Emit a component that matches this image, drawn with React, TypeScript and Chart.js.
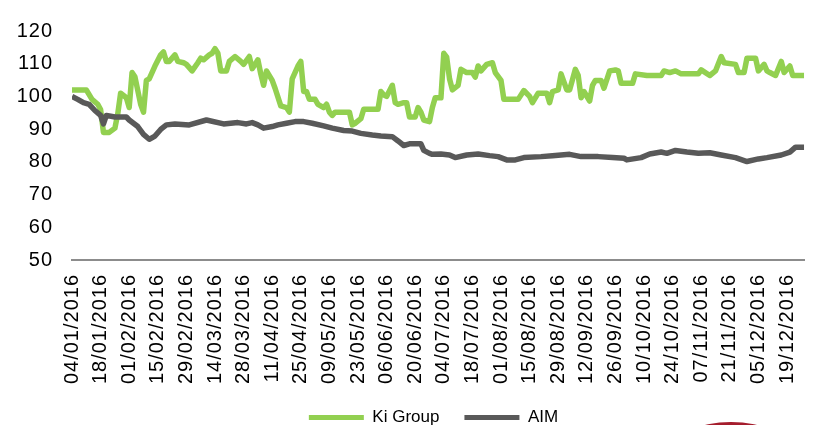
import { useEffect, useRef } from 'react';
import { Chart, registerables } from 'chart.js';

Chart.register(...registerables);

// Fortnightly date labels on the x axis (one every 10 trading days)
const tickLabels = [
  '04/01/2016', '18/01/2016', '01/02/2016', '15/02/2016', '29/02/2016', '14/03/2016',
  '28/03/2016', '11/04/2016', '25/04/2016', '09/05/2016', '23/05/2016', '06/06/2016',
  '20/06/2016', '04/07/2016', '18/07/2016', '01/08/2016', '15/08/2016', '29/08/2016',
  '12/09/2016', '26/09/2016', '10/10/2016', '24/10/2016', '07/11/2016', '21/11/2016',
  '05/12/2016', '19/12/2016',
];
const lastTradingDay = 256;

const seriesNames = ['Ki Group', 'AIM'];
const seriesColors = ['#92D050', '#595959'];

// [trading day index since 04/01/2016, rebased value]
const kiGroup: [number, number][] = [
  [0, 102], [5, 102], [7, 99.1], [9, 97.6], [10, 96], [11, 89], [13, 89], [15, 90.3], [16, 94.7],
  [17, 101], [19, 99.6], [20, 96.6], [21, 107.3], [22, 106], [24, 97.6], [25, 95.2], [26, 104.9],
  [27, 105.4], [29, 109.3], [31, 112.7], [32, 113.6], [33, 110.7], [34, 110.7], [36, 112.7],
  [37, 110.7], [39, 110.3], [40, 109.8], [42, 107.8], [44, 110.3], [45, 111.7], [46, 111.2],
  [48, 112.7], [49, 113.2], [50, 114.6], [51, 113.2], [52, 107.8], [54, 107.8], [55, 110.7],
  [57, 112.2], [59, 110.7], [60, 109.8], [62, 112.2], [63, 108.5], [64, 109.8], [65, 111.2],
  [66, 106.9], [67, 103.4], [68, 107.8], [70, 104.9], [71, 102.5], [73, 97.1], [75, 96.6],
  [76, 95.2], [77, 105.4], [79, 109.3], [80, 110.7], [81, 101.5], [82, 101.5], [83, 99.1],
  [85, 99.1], [86, 97.6], [88, 96.6], [89, 97.6], [90, 95.2], [91, 94.2], [92, 95.2], [95, 95.2],
  [97, 95.2], [98, 91.3], [99, 91.8], [101, 93.2], [102, 96.1], [105, 96.1], [107, 96.1],
  [108, 101.5], [109, 100.5], [110, 100], [112, 103.4], [113, 98.1], [114, 97.6], [116, 98.1],
  [117, 98.1], [118, 93.7], [120, 93.7], [121, 96.6], [122, 95.2], [123, 92.8], [125, 92.3],
  [126, 96.6], [127, 99.6], [129, 99.6], [130, 113.2], [131, 112], [132, 105.4], [133, 102],
  [135, 103.4], [136, 108.3], [138, 107.3], [140, 107.3], [141, 105.9], [142, 109.3],
  [143, 107.8], [145, 109.8], [147, 110.3], [148, 107.3], [150, 104.9], [151, 99.1], [156, 99.1],
  [158, 101.8], [160, 100], [161, 98.1], [163, 101], [166, 101], [167, 98.1], [168, 101.5],
  [170, 102], [171, 106.9], [173, 102], [174, 102], [176, 108.3], [177, 106.4], [178, 99.6],
  [179, 101.5], [181, 98.6], [182, 103.4], [183, 104.9], [185, 104.9], [186, 102.5],
  [188, 107.8], [190, 108.1], [191, 107.8], [192, 104], [196, 104], [197, 106.9], [201, 106.4],
  [206, 106.4], [207, 107.8], [209, 107.3], [211, 107.8], [213, 106.9], [219, 106.9],
  [220, 108.1], [223, 106.4], [225, 107.8], [227, 112.2], [228, 110.3], [232, 109.8],
  [233, 107.3], [235, 107.3], [236, 111.7], [239, 111.7], [240, 107.8], [242, 109.8],
  [243, 107.8], [244, 107.3], [246, 106.4], [248, 110.7], [249, 107.3], [251, 109.3],
  [252, 106.4], [256, 106.4],
];

const aim: [number, number][] = [
  [0, 100], [2, 99.1], [4, 98.1], [6, 97.6], [8, 95.7], [10, 94.2], [11, 91.6], [12, 94.2],
  [15, 93.7], [19, 93.7], [20, 92.8], [23, 90.8], [25, 88.4], [27, 86.9], [29, 87.9], [31, 89.9],
  [33, 91.3], [36, 91.6], [41, 91.3], [47, 92.8], [53, 91.6], [58, 92], [61, 91.6], [63, 92],
  [65, 91.3], [67, 90.3], [70, 90.8], [72, 91.3], [75, 91.8], [78, 92.3], [81, 92.3], [84, 91.8],
  [88, 91], [91, 90.3], [95, 89.6], [98, 89.4], [101, 88.7], [105, 88.2], [108, 87.9],
  [112, 87.7], [114, 86.4], [116, 85], [118, 85.5], [122, 85.5], [123, 83.5], [125, 82.6],
  [126, 82.3], [129, 82.4], [132, 82.1], [134, 81.3], [138, 82.1], [142, 82.4], [146, 81.9],
  [149, 81.6], [152, 80.6], [155, 80.6], [158, 81.3], [164, 81.6], [168, 81.9], [174, 82.3],
  [178, 81.6], [184, 81.6], [189, 81.3], [193, 81.1], [194, 80.6], [199, 81.3], [202, 82.4],
  [206, 83], [208, 82.6], [211, 83.5], [215, 83], [219, 82.6], [223, 82.8], [227, 82.1],
  [232, 81.3], [236, 80.1], [240, 80.9], [243, 81.3], [248, 82.1], [251, 83], [253, 84.5],
  [256, 84.5],
];

const yMin = 50;
const yMax = 120;
const yStep = 10;

const FONT = "'Liberation Sans', Arial, sans-serif";

export default function App() {
  const ref = useRef<HTMLCanvasElement>(null);

  useEffect(() => {
    const canvas = ref.current;
    if (!canvas) return;
    const spacing = '1px';

    const textPlugin: any = {
      id: 'textTweaks',
      beforeLayout(chart: any) {
        chart.ctx.letterSpacing = spacing;
        const lg: any = chart.legend;
        if (lg && !lg.__patched) {
          lg.__patched = true;
          const fit = lg.fit.bind(lg);
          const draw = lg.draw.bind(lg);
          lg.fit = () => {
            const c: any = chart.ctx;
            const s = c.letterSpacing;
            c.letterSpacing = '0px';
            fit();
            c.letterSpacing = s;
          };
          lg.draw = (...a: any[]) => {
            const c: any = chart.ctx;
            const s = c.letterSpacing;
            c.letterSpacing = '0px';
            draw(...a);
            c.letterSpacing = s;
          };
        }
      },
      afterLayout(chart: any) {
        const lg = chart.legend;
        if (lg) {
          lg.left += 21;
          lg.right += 21;
        }
      },
      beforeDraw(chart: any) {
        chart.ctx.letterSpacing = spacing;
      },
    };

    const chart = new Chart(canvas, {
      type: 'line',
      data: {
        datasets: [
          {
            label: seriesNames[0],
            data: kiGroup.map(([x, y]) => ({ x, y })),
            borderColor: seriesColors[0],
            backgroundColor: seriesColors[0],
            borderWidth: 5.5,
            pointRadius: 0,
            tension: 0,
            borderJoinStyle: 'round',
            order: 1,
          },
          {
            label: seriesNames[1],
            data: aim.map(([x, y]) => ({ x, y })),
            borderColor: seriesColors[1],
            backgroundColor: seriesColors[1],
            borderWidth: 5.5,
            pointRadius: 0,
            tension: 0,
            borderJoinStyle: 'round',
            order: 0,
          },
        ],
      },
      options: {
        responsive: false,
        animation: false,
        devicePixelRatio: 1,
        layout: { padding: { top: 20, left: 0, right: 0, bottom: 0 } },
        scales: {
          x: {
            type: 'linear',
            min: 0,
            max: lastTradingDay,
            grid: { display: false, drawTicks: false },
            border: { display: true, color: '#8c8c8c', width: 2 },
            ticks: {
              stepSize: 10,
              includeBounds: false,
              autoSkip: false,
              maxRotation: 90,
              minRotation: 90,
              padding: 14,
              color: '#000',
              font: { size: 20, family: FONT },
              callback: (v: any) => {
                const i = Math.round(Number(v) / 10);
                return Number(v) % 10 === 0 ? tickLabels[i] : undefined;
              },
            },
            afterFit: (s: any) => {
              s.height = 124;
            },
          },
          y: {
            min: yMin,
            max: yMax,
            grid: { display: false, drawTicks: false },
            border: { display: false },
            ticks: {
              stepSize: yStep,
              padding: 19,
              color: '#000',
              font: { size: 20, family: FONT },
            },
            afterFit: (s: any) => {
              s.width = 72;
            },
          },
        },
        plugins: {
          tooltip: { enabled: false },
          legend: {
            position: 'bottom',
            labels: {
              boxWidth: 55,
              boxHeight: 5,
              padding: 25,
              color: '#000',
              font: { size: 17, family: FONT },
              generateLabels: () =>
                seriesNames.map((text, i) => ({
                  text,
                  fillStyle: seriesColors[i],
                  strokeStyle: seriesColors[i],
                  lineWidth: 0,
                  hidden: false,
                  datasetIndex: i,
                  fontColor: '#000',
                })),
            },
          },
        },
      },
      plugins: [textPlugin],
    } as any);

    return () => chart.destroy();
  }, []);

  return (
    <div
      style={{
        position: 'fixed',
        left: 0,
        top: 0,
        width: 825,
        height: 425,
        overflow: 'hidden',
        background: '#fff',
      }}
    >
      <canvas ref={ref} width={825} height={436} style={{ display: 'block', width: 825, height: 436 }} />
      <div
        style={{
          position: 'absolute',
          left: 613,
          top: 422,
          width: 236,
          height: 236,
          borderRadius: '50%',
          background: '#a51d2d',
        }}
      />
    </div>
  );
}
